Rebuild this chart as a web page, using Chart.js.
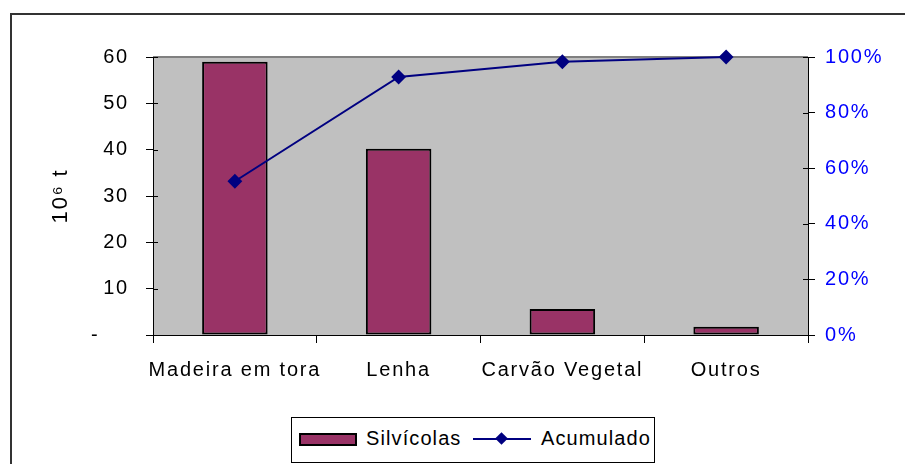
<!DOCTYPE html>
<html lang="pt">
<head>
  <meta charset="UTF-8">
  <title>Silvícolas</title>
  <script src="https://cdn.jsdelivr.net/npm/chart.js"></script>
  <style>
    body {
      margin: 0;
      background: #fff;
      font-family: "Liberation Sans", Arial, sans-serif;
      overflow: hidden;
    }

    .frame {
      position: absolute;
      left: 10px;
      top: 13px;
      width: 920px;
      height: 480px;
      border: 2px solid #333;
    }

    #chart {
      position: absolute;
      left: 0;
      top: 0;
    }

    .legend {
      position: absolute;
      left: 291px;
      top: 417px;
      width: 362px;
      height: 44px;
      border: 1px solid #000;
      background: #fff;
      font-size: 20px;
      letter-spacing: 1.1px;
      color: #000;
    }

    .legend .swatch {
      position: absolute;
      left: 7px;
      top: 15px;
      width: 54px;
      height: 9px;
      background: #993366;
      border: 2px solid #000;
    }

    .legend .lineKey {
      position: absolute;
      left: 181px;
      top: 20px;
      width: 58px;
      height: 2px;
      background: #000080;
    }

    .legend .diamond {
      position: absolute;
      left: 205px;
      top: 16px;
      width: 9px;
      height: 9px;
      background: #000080;
      transform: rotate(45deg);
    }

    .legend span {
      position: absolute;
      top: 9px;
    }
  </style>
</head>
<body>

  <div class="frame"></div>
  <canvas id="chart" width="905" height="464"></canvas>

  <!-- legend drawn as html, sits on top of the chart -->
  <div class="legend">
    <div class="swatch"></div>
    <span style="left: 74px;">Silvícolas</span>
    <div class="lineKey"></div>
    <div class="diamond"></div>
    <span style="left: 249px;">Acumulado</span>
  </div>

  <script>
    const categories = ["Madeira em tora", "Lenha", "Carvão Vegetal", "Outros"];
    const silvicolas = [59, 40.2, 5.6, 1.8];
    const acumulado = [0.553, 0.928, 0.983, 1.0];

    const FONT = { family: "'Liberation Sans', Arial, sans-serif", size: 20 };

    // gray plot area with its gray top edge, plus the wider text spacing of the original
    const plotBg = {
      id: "plotBg",
      beforeDraw(chart) {
        const { ctx, chartArea: a } = chart;
        ctx.letterSpacing = "1.8px";
        ctx.save();
        ctx.fillStyle = "#c0c0c0";
        ctx.fillRect(a.left, a.top, a.right - a.left, a.bottom - a.top);
        ctx.strokeStyle = "#808080";
        ctx.lineWidth = 2;
        ctx.beginPath();
        ctx.moveTo(a.left, a.top);
        ctx.lineTo(a.right, a.top);
        ctx.stroke();
        ctx.restore();
      },
      // tick marks that cross the axes, like the original
      afterDraw(chart) {
        const { ctx, chartArea: a, scales } = chart;
        ctx.save();
        ctx.strokeStyle = "#000";
        ctx.lineWidth = 1;
        ctx.beginPath();
        scales.y.ticks.forEach((t, i) => {
          const y = Math.round(scales.y.getPixelForTick(i)) + 0.5;
          ctx.moveTo(a.left, y);
          ctx.lineTo(a.left + 5, y);
        });
        scales.y1.ticks.forEach((t, i) => {
          const y = Math.round(scales.y1.getPixelForTick(i)) + 0.5;
          ctx.moveTo(a.right - 5, y);
          ctx.lineTo(a.right, y);
        });
        ctx.stroke();
        ctx.restore();
      }
    };

    new Chart(document.getElementById("chart"), {
      data: {
        labels: categories,
        datasets: [
          {
            type: "line",
            label: "Acumulado",
            data: acumulado,
            yAxisID: "y1",
            borderColor: "#000080",
            backgroundColor: "#000080",
            borderWidth: 2,
            pointStyle: "rectRot",
            pointRadius: 6,
            tension: 0,
            clip: false,
            order: 0
          },
          {
            type: "bar",
            label: "Silvícolas",
            data: silvicolas,
            yAxisID: "y",
            backgroundColor: "#993366",
            borderColor: "#000",
            borderWidth: 2,
            borderSkipped: false,
            categoryPercentage: 1,
            barPercentage: 0.4,
            order: 1
          }
        ]
      },
      options: {
        responsive: false,
        animation: false,
        devicePixelRatio: 1,
        layout: { padding: { top: 57, left: 44, right: 0, bottom: 0 } },
        plugins: {
          legend: { display: false },
          tooltip: { enabled: false }
        },
        scales: {
          x: {
            offset: true,
            grid: { offset: true, drawOnChartArea: false, tickLength: 8, color: "#000" },
            border: { color: "#000", width: 1 },
            ticks: { color: "#000", font: FONT, padding: 15, maxRotation: 0 },
            afterFit(scale) { scale.height = 129; }
          },
          y: {
            position: "left",
            min: 0,
            max: 60,
            grid: { drawOnChartArea: false, tickLength: 7, color: "#000" },
            border: { color: "#000", width: 1 },
            ticks: {
              stepSize: 10,
              color: "#000",
              font: FONT,
              padding: 17,
              callback: v => (v === 0 ? "-\u00a0\u00a0\u00a0\u00a0" : v)
            },
            title: { display: true, text: "10⁶ t", color: "#000", font: { family: FONT.family, size: 22 } },
            afterFit(scale) { scale.width = 109; }
          },
          y1: {
            position: "right",
            min: 0,
            max: 1,
            grid: { drawOnChartArea: false, tickLength: 7, color: "#000" },
            border: { color: "#000", width: 1 },
            ticks: {
              stepSize: 0.2,
              color: "#0000ff",
              font: FONT,
              padding: 10,
              callback: v => Math.round(v * 100) + "%"
            },
            afterFit(scale) { scale.width = 97; }
          }
        }
      },
      plugins: [plotBg]
    });
  </script>
</body>
</html>
